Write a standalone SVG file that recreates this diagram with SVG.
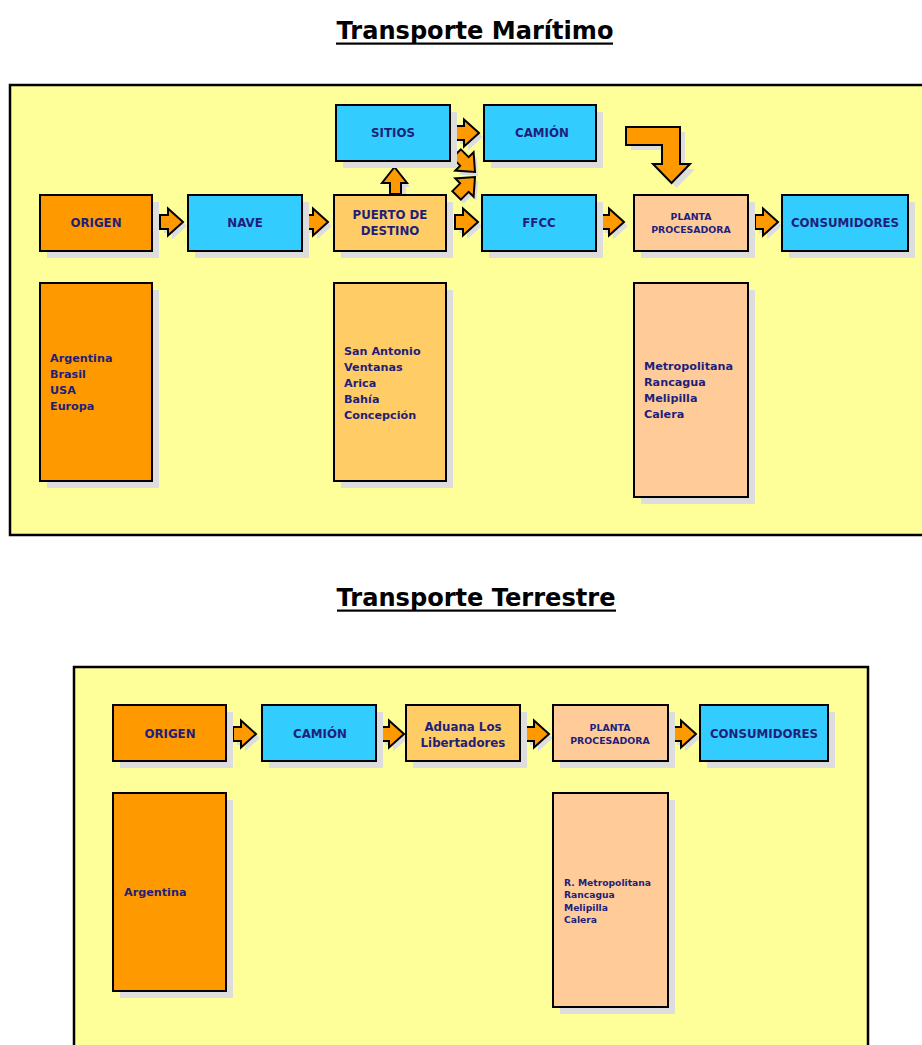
<svg xmlns="http://www.w3.org/2000/svg" width="922" height="1045" viewBox="0 0 922 1045">
<defs>
<style>
.panel{fill:#FFFF99;stroke:#000;stroke-width:2.5}
.box{stroke:#000;stroke-width:2}
.sh{fill:#DDDDDD}
.o{fill:#FF9900}
.c{fill:#33CCFF}
.lo{fill:#FFCC66}
.p{fill:#FFCC99}
.t{font-family:"DejaVu Sans",Verdana,sans-serif;font-weight:bold;fill:#1F1F7A}
.l{font-size:11.8px;text-anchor:middle}
.s{font-size:9.4px;text-anchor:middle}
.li{font-size:11.2px}
.ls{font-size:9.2px}
.title{font-family:"DejaVu Sans",Verdana,sans-serif;font-weight:bold;font-size:24px;fill:#000;text-anchor:middle}
.arr{fill:#FF9900;stroke:#000;stroke-width:2;stroke-linejoin:miter}
.ash{fill:#DDDDDD}
</style>
<path id="ra" d="M0,-7 H8 V-13.5 L23,0 L8,13.5 V7 H0 Z"/>
<path id="da" d="M0,-6 H11 V-13 L26,0 L11,13 V6 H0 Z"/>
</defs>
<rect width="922" height="1045" fill="#FFFFFF"/>

<g id="title-maritimo">
<text class="title" x="475" y="39" textLength="277" lengthAdjust="spacingAndGlyphs">Transporte Marítimo</text>
<rect x="336" y="42.5" width="277" height="2.2" fill="#000"/>
</g>
<g id="panel-maritimo"><rect class="panel" x="10" y="85" width="920" height="450"/></g>

<g id="title-terrestre">
<text class="title" x="476" y="606" textLength="279" lengthAdjust="spacingAndGlyphs">Transporte Terrestre</text>
<rect x="337" y="609.5" width="279" height="2.2" fill="#000"/>
</g>
<g id="panel-terrestre"><rect class="panel" x="74" y="667" width="794" height="400"/></g>

<g id="connectors">
<g transform="translate(164,226)"><use href="#ra" class="ash"/></g>
<g transform="translate(160,222)"><use href="#ra" class="arr"/></g>
<g transform="translate(309,226)"><use href="#ra" class="ash"/></g>
<g transform="translate(305,222)"><use href="#ra" class="arr"/></g>
<g transform="translate(459,226)"><use href="#ra" class="ash"/></g>
<g transform="translate(455,222)"><use href="#ra" class="arr"/></g>
<g transform="translate(460,137)"><use href="#ra" class="ash"/></g>
<g transform="translate(456,133)"><use href="#ra" class="arr"/></g>
<g transform="translate(605,226)"><use href="#ra" class="ash"/></g>
<g transform="translate(601,222)"><use href="#ra" class="arr"/></g>
<g transform="translate(759,226)"><use href="#ra" class="ash"/></g>
<g transform="translate(755,222)"><use href="#ra" class="arr"/></g>
<path class="ash" d="M394,199 V187 H387 L398.5,171 L410,187 H406 V199 Z"/>
<path class="arr" d="M390,194 V183 H382 L394.5,167 L407,183 H401 V194 Z"/>
<g transform="translate(478,176) rotate(45) translate(-26,0)"><use href="#da" class="ash"/></g>
<g transform="translate(475,172) rotate(45) translate(-26,0)"><use href="#da" class="arr"/></g>
<g transform="translate(478,181) rotate(-45) translate(-26,0)"><use href="#da" class="ash"/></g>
<g transform="translate(475,177) rotate(-45) translate(-26,0)"><use href="#da" class="arr"/></g>
<path class="ash" d="M631,132 H685 V169 H695 L676.5,188 L658,169 H667 V150 H631 Z"/>
<path class="arr" d="M626,127 H680 V164 H690 L671.5,183 L653,164 H662 V145 H626 Z"/>
<g transform="translate(237,738)"><use href="#ra" class="ash"/></g>
<g transform="translate(233,734)"><use href="#ra" class="arr"/></g>
<g transform="translate(385,738)"><use href="#ra" class="ash"/></g>
<g transform="translate(381,734)"><use href="#ra" class="arr"/></g>
<g transform="translate(530,738)"><use href="#ra" class="ash"/></g>
<g transform="translate(526,734)"><use href="#ra" class="arr"/></g>
<g transform="translate(677,738)"><use href="#ra" class="ash"/></g>
<g transform="translate(673,734)"><use href="#ra" class="arr"/></g>
</g>

<g id="m-origen"><rect class="sh" x="47" y="202" width="112" height="56"/><rect class="box o" x="40" y="195" width="112" height="56"/><text class="t l" x="96" y="227">ORIGEN</text></g>
<g id="m-nave"><rect class="sh" x="195" y="202" width="114" height="56"/><rect class="box c" x="188" y="195" width="114" height="56"/><text class="t l" x="245" y="227">NAVE</text></g>
<g id="m-puerto"><rect class="sh" x="341" y="202" width="112" height="56"/><rect class="box lo" x="334" y="195" width="112" height="56"/><text class="t l" x="390" y="219">PUERTO DE</text><text class="t l" x="390" y="235">DESTINO</text></g>
<g id="m-sitios"><rect class="sh" x="343" y="112" width="114" height="56"/><rect class="box c" x="336" y="105" width="114" height="56"/><text class="t l" x="393" y="137">SITIOS</text></g>
<g id="m-camion"><rect class="sh" x="491" y="112" width="112" height="56"/><rect class="box c" x="484" y="105" width="112" height="56"/><text class="t l" x="542" y="137">CAMIÓN</text></g>
<g id="m-ffcc"><rect class="sh" x="489" y="202" width="114" height="56"/><rect class="box c" x="482" y="195" width="114" height="56"/><text class="t l" x="539" y="227">FFCC</text></g>
<g id="m-planta"><rect class="sh" x="641" y="202" width="114" height="56"/><rect class="box p" x="634" y="195" width="114" height="56"/><text class="t s" x="691" y="219.5">PLANTA</text><text class="t s" x="691" y="232.5">PROCESADORA</text></g>
<g id="m-consumidores"><rect class="sh" x="789" y="202" width="126" height="56"/><rect class="box c" x="782" y="195" width="126" height="56"/><text class="t l" x="845" y="227">CONSUMIDORES</text></g>

<g id="m-origen-list"><rect class="sh" x="47" y="290" width="112" height="198"/><rect class="box o" x="40" y="283" width="112" height="198"/>
<text class="t li" x="50" y="362">Argentina</text><text class="t li" x="50" y="378">Brasil</text><text class="t li" x="50" y="394">USA</text><text class="t li" x="50" y="410">Europa</text></g>
<g id="m-puerto-list"><rect class="sh" x="341" y="290" width="112" height="198"/><rect class="box lo" x="334" y="283" width="112" height="198"/>
<text class="t li" x="344" y="355">San Antonio</text><text class="t li" x="344" y="371">Ventanas</text><text class="t li" x="344" y="387">Arica</text><text class="t li" x="344" y="403">Bahía</text><text class="t li" x="344" y="419">Concepción</text></g>
<g id="m-planta-list"><rect class="sh" x="641" y="290" width="114" height="214"/><rect class="box p" x="634" y="283" width="114" height="214"/>
<text class="t li" x="644" y="370">Metropolitana</text><text class="t li" x="644" y="386">Rancagua</text><text class="t li" x="644" y="402">Melipilla</text><text class="t li" x="644" y="418">Calera</text></g>

<g id="t-origen"><rect class="sh" x="120" y="712" width="113" height="56"/><rect class="box o" x="113" y="705" width="113" height="56"/><text class="t l" x="170" y="738">ORIGEN</text></g>
<g id="t-camion"><rect class="sh" x="269" y="712" width="114" height="56"/><rect class="box c" x="262" y="705" width="114" height="56"/><text class="t l" x="320" y="738">CAMIÓN</text></g>
<g id="t-aduana"><rect class="sh" x="413" y="712" width="114" height="56"/><rect class="box lo" x="406" y="705" width="114" height="56"/><text class="t l" x="463" y="731">Aduana Los</text><text class="t l" x="463" y="747">Libertadores</text></g>
<g id="t-planta"><rect class="sh" x="560" y="712" width="115" height="56"/><rect class="box p" x="553" y="705" width="115" height="56"/><text class="t s" x="610" y="731">PLANTA</text><text class="t s" x="610" y="744">PROCESADORA</text></g>
<g id="t-consumidores"><rect class="sh" x="707" y="712" width="128" height="56"/><rect class="box c" x="700" y="705" width="128" height="56"/><text class="t l" x="764" y="738">CONSUMIDORES</text></g>

<g id="t-origen-list"><rect class="sh" x="120" y="800" width="113" height="198"/><rect class="box o" x="113" y="793" width="113" height="198"/>
<text class="t li" x="124" y="896">Argentina</text></g>
<g id="t-planta-list"><rect class="sh" x="560" y="800" width="115" height="214"/><rect class="box p" x="553" y="793" width="115" height="214"/>
<text class="t ls" x="564" y="885.5">R. Metropolitana</text><text class="t ls" x="564" y="897.5">Rancagua</text><text class="t ls" x="564" y="910.5">Melipilla</text><text class="t ls" x="564" y="922.5">Calera</text></g>
</svg>
